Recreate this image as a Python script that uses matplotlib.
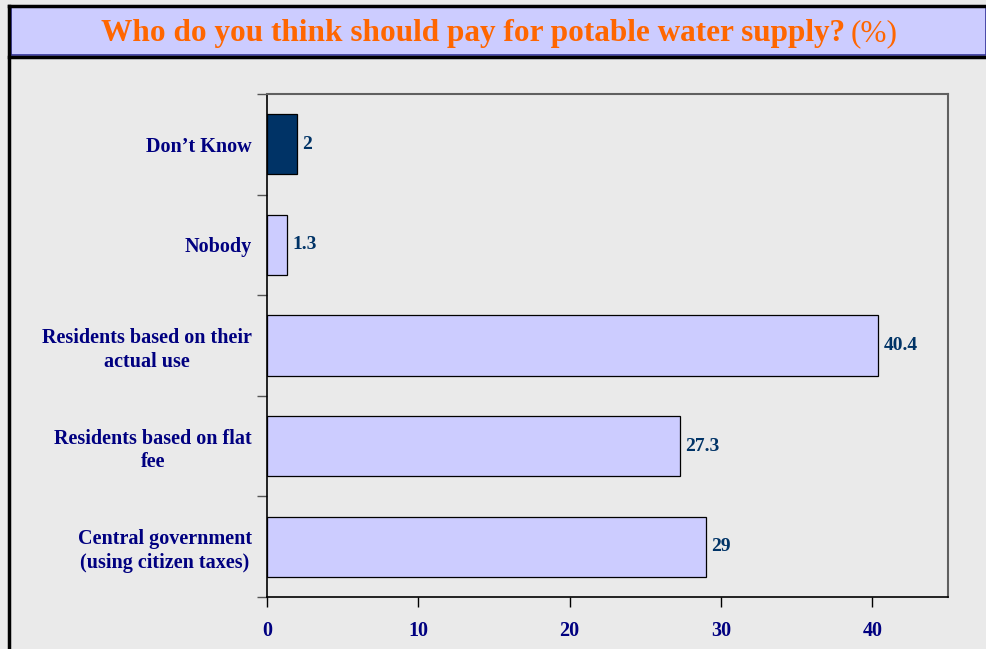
import matplotlib
matplotlib.use("Agg")
import matplotlib.pyplot as plt
from matplotlib.patches import Rectangle
from matplotlib.lines import Line2D

# data, bottom to top as drawn
categories = ["Central government\n(using citizen taxes)",
              "Residents based on flat\nfee",
              "Residents based on their\nactual use",
              "Nobody",
              "Don\u2019t Know"]
values = [29, 27.3, 40.4, 1.3, 2]
value_labels = ["29", "27.3", "40.4", "1.3", "2"]
bar_colors = ["#CCCCFF", "#CCCCFF", "#CCCCFF", "#CCCCFF", "#003366"]
xticks = [0, 10, 20, 30, 40]

plt.rcParams["font.family"] = ["Liberation Serif", "DejaVu Serif"]

bg = "#EAEAEA"
navy = "#000080"
fig = plt.figure(figsize=(9.86, 6.49), dpi=100, facecolor=bg)
ax = fig.add_axes([267/986, 1 - 597/649, (948-267)/986, (597-94)/649])
ax.set_facecolor(bg)

ypos = list(range(len(categories)))
ax.barh(ypos, values, height=0.6, color=bar_colors, edgecolor="black", linewidth=0.9)
for y, v, lab in zip(ypos, values, value_labels):
    ax.text(v + 0.35, y, lab, va="center", ha="left", fontsize=14,
            fontweight="bold", color="#003366")

ax.set_xlim(0, 45)
ax.set_ylim(-0.5, len(categories) - 0.5)
ax.set_xticks(xticks)
ax.set_xticklabels([str(t) for t in xticks], fontsize=14.5, fontweight="bold", color=navy)
ax.set_yticks(ypos)
ax.set_yticklabels(categories, fontsize=14.5, fontweight="bold", color=navy,
                   linespacing=1.25, multialignment="center")
ax.tick_params(axis="y", length=0, pad=11)
ax.set_yticks([i - 0.5 for i in range(len(categories) + 1)], minor=True)
ax.tick_params(axis="y", which="minor", length=7, width=1, color="#555555")
ax.tick_params(axis="x", length=7, width=1, pad=10, color="black")

for s in ["top", "right"]:
    ax.spines[s].set_color("#606060")
    ax.spines[s].set_linewidth(1.5)
for s in ["bottom", "left"]:
    ax.spines[s].set_color("black")
    ax.spines[s].set_linewidth(1.2)

# title box and frame
fig.patches.append(Rectangle((11/986, 1 - 55/649), 1 - 11/986, 48/649,
                             transform=fig.transFigure, facecolor="#CCCCFF",
                             edgecolor="#333399", linewidth=1.2, zorder=1))
fig.lines.append(Line2D([9/986, 1], [1 - 6/649, 1 - 6/649], transform=fig.transFigure,
                        color="black", linewidth=2.5))
fig.lines.append(Line2D([9/986, 1], [1 - 57/649, 1 - 57/649], transform=fig.transFigure,
                        color="black", linewidth=2.5))
fig.lines.append(Line2D([9/986, 9/986], [0, 1 - 6/649], transform=fig.transFigure,
                        color="black", linewidth=2.5))

t1 = fig.text(101/986, 1 - 34/649, "Who do you think should pay for potable water supply?",
              fontsize=22.5, fontweight="bold", color="#FF6600", va="center", ha="left")
fig.canvas.draw()
bb = t1.get_window_extent()
fig.text(bb.x1 / 986 + 0.006, 1 - 34/649, "(%)", fontsize=22.5, color="#FF6600",
         va="center", ha="left")

fig.savefig("out.png", dpi=100, facecolor=bg)
